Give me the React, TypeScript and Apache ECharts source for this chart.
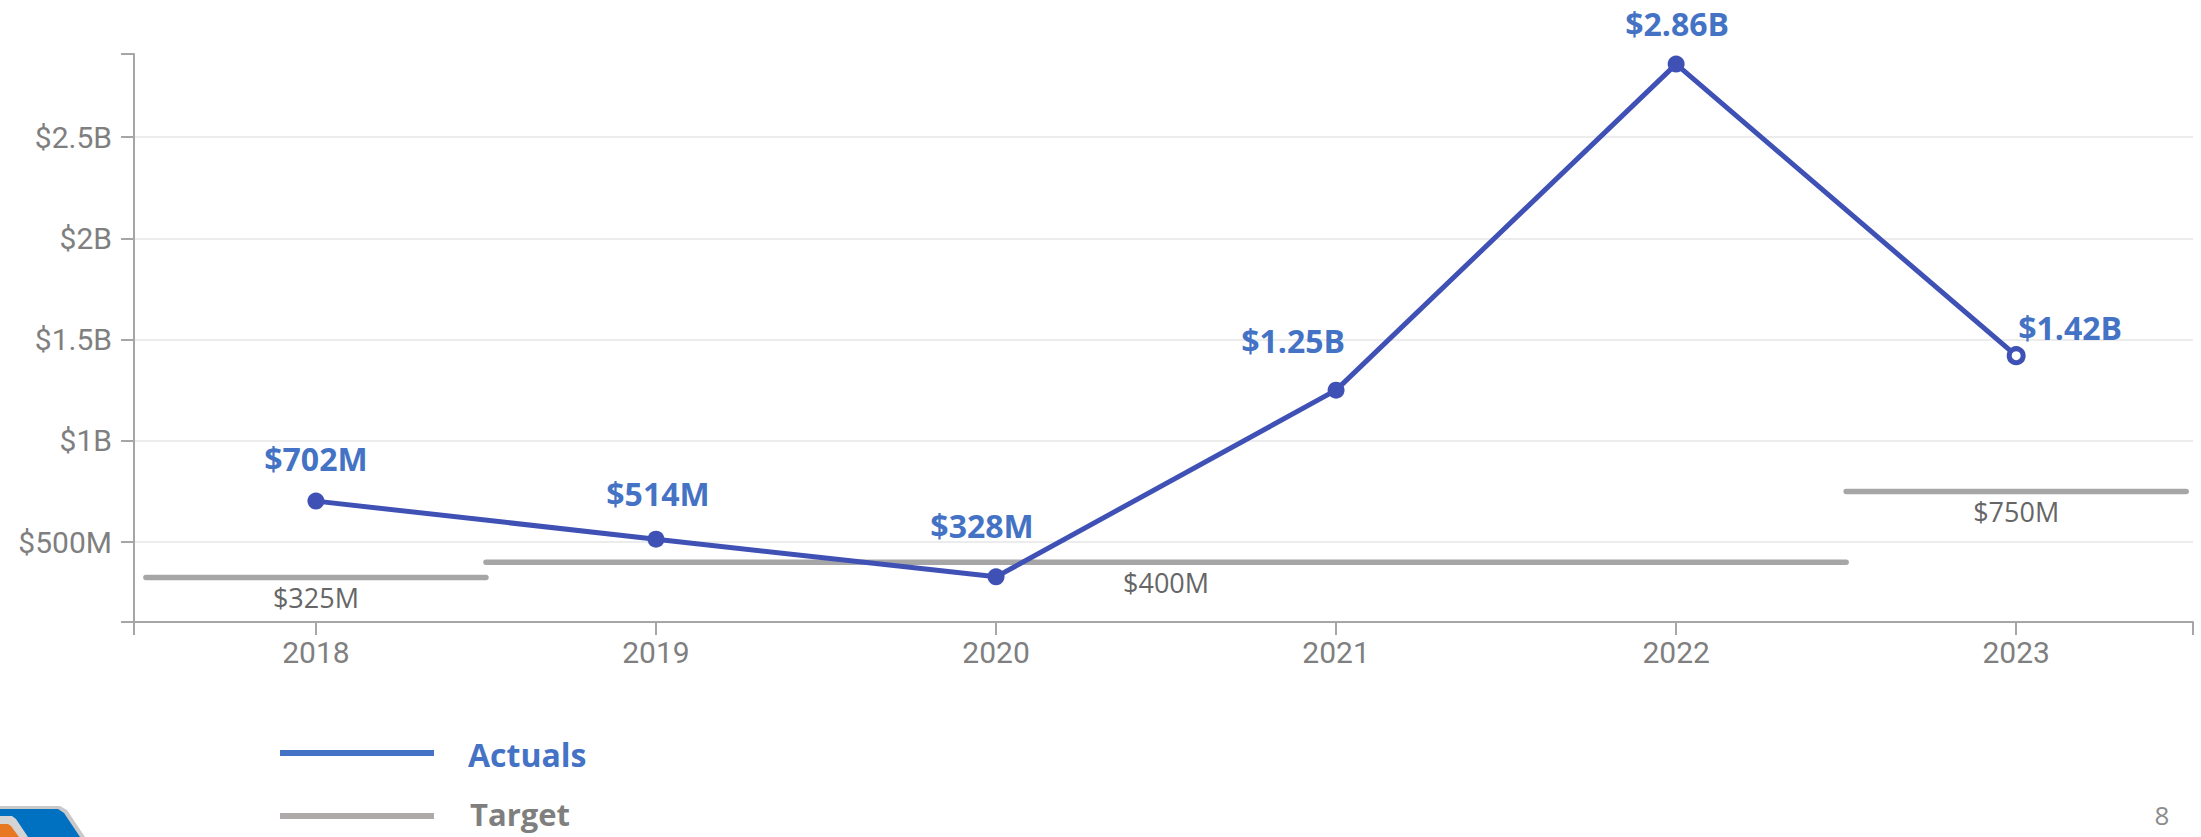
import React, { useEffect, useRef } from 'react';
import * as echarts from 'echarts';

// ---- data ----
const years = [2018, 2019, 2020, 2021, 2022, 2023];
const actuals = [702e6, 514e6, 328e6, 1.25e9, 2.86e9, 1.42e9];
const targetValues = [325e6, 400e6, 750e6];
const targetFrom = [2017.5, 2018.5, 2022.5];
const targetTo = [2018.5, 2022.5, 2023.5];
const yTickValues = [5e8, 1e9, 1.5e9, 2e9, 2.5e9];
const legendNames = ['Actuals', 'Target'];
const pageNumber = '8';

// ---- styling (label nudges per actual point, px) ----
const actualLabelOffsets: [number, number][] = [
  [0, -18],
  [2, -21],
  [-14, -27],
  [-43, -25],
  [1, -16],
  [54, -3],
];

const BLUE_LINE = '#3F51B5';
const BLUE_TEXT = '#4472C4';
const GREY_LINE = '#a6a6a6';
const AXIS = '#a6a6a6';

function money(v: number): string {
  if (v >= 1e9) {
    const b = v / 1e9;
    return '$' + parseFloat(b.toFixed(2)) + 'B';
  }
  return '$' + Math.round(v / 1e6) + 'M';
}

export default function App() {
  const ref = useRef<HTMLDivElement>(null);

  useEffect(() => {
    if (!ref.current) return;
    const chart = echarts.init(ref.current, undefined, { renderer: 'svg' });

    const last = actuals.length - 1;

    const targetSeries = targetValues.map((v, i) => {
      const mid = (targetFrom[i] + targetTo[i]) / 2;
      return {
        type: 'line',
        name: legendNames[1],
        z: 2,
        silent: true,
        symbol: 'circle',
        symbolSize: 1,
        showSymbol: true,
        itemStyle: { color: GREY_LINE },
        lineStyle: { color: GREY_LINE, width: 5.5, cap: 'round' },
        emphasis: { disabled: true },
        label: { show: false },
        data: [
          [targetFrom[i], v],
          {
            value: [mid, v],
            label: {
              show: true,
              position: 'bottom',
              distance: 6,
              formatter: money(v),
              fontFamily: 'Open Sans',
              fontSize: 27,
              color: '#666666',
            },
          },
          [targetTo[i], v],
        ],
      };
    });

    const actualSeries = {
      type: 'line',
      name: legendNames[0],
      z: 5,
      silent: true,
      symbol: 'circle',
      symbolSize: 17,
      showSymbol: true,
      itemStyle: { color: BLUE_LINE },
      lineStyle: { color: BLUE_LINE, width: 5 },
      emphasis: { disabled: true },
      label: {
        show: true,
        position: 'top',
        distance: 0,
        fontFamily: 'Open Sans',
        fontWeight: 'bold',
        fontSize: 32,
        color: BLUE_TEXT,
        formatter: (p: any) => money(p.value[1]),
      },
      data: years.map((y, i) => {
        const item: any = {
          value: [y, actuals[i]],
          label: { offset: actualLabelOffsets[i] },
        };
        if (i === last) {
          item.symbolSize = 14;
          item.itemStyle = { color: '#ffffff', borderColor: BLUE_LINE, borderWidth: 5 };
        }
        return item;
      }),
    };

    const option: any = {
      animation: false,
      backgroundColor: '#ffffff',
      grid: { left: 134, right: 8, top: 54, bottom: 215, containLabel: false },
      xAxis: {
        type: 'value',
        min: 2017.465,
        max: 2023.52,
        minInterval: 1,
        maxInterval: 1,
        axisLine: { show: true, onZero: false, lineStyle: { color: AXIS, width: 2 } },
        axisTick: { show: true, length: 13, lineStyle: { color: AXIS, width: 2 } },
        axisLabel: {
          margin: 15,
          fontFamily: 'Roboto',
          fontSize: 30,
          color: '#7f7f7f',
          formatter: (v: number) => (years.includes(v) ? String(v) : ''),
        },
        splitLine: { show: false },
      },
      yAxis: {
        type: 'value',
        min: 105e6,
        max: 2.91e9,
        minInterval: 5e8,
        maxInterval: 5e8,
        axisLine: { show: true, onZero: false, lineStyle: { color: AXIS, width: 2 } },
        axisTick: { show: true, length: 13, lineStyle: { color: AXIS, width: 2 } },
        axisLabel: {
          margin: 22,
          fontFamily: 'Roboto',
          fontSize: 30,
          color: '#7f7f7f',
          formatter: (v: number) =>
            yTickValues.some((t) => Math.abs(t - v) < 1) ? money(v) : '',
        },
        splitLine: {
          show: true,
          showMinLine: false,
          showMaxLine: false,
          lineStyle: { color: '#ececec', width: 2 },
        },
      },
      series: [...targetSeries, actualSeries],
      graphic: [
        // legend
        { type: 'rect', shape: { x: 280, y: 750, width: 154, height: 6 }, style: { fill: BLUE_TEXT }, silent: true },
        {
          type: 'text', x: 468, y: 754,
          style: { text: legendNames[0], fill: BLUE_TEXT, font: 'bold 32px "Open Sans"', verticalAlign: 'middle', align: 'left' },
          silent: true,
        },
        { type: 'rect', shape: { x: 280, y: 813, width: 154, height: 6 }, style: { fill: '#aeaaaa' }, silent: true },
        {
          type: 'text', x: 470, y: 814,
          style: { text: legendNames[1], fill: '#7f7f7f', font: 'bold 31px "Open Sans"', lineHeight: 30, verticalAlign: 'middle', align: 'left' },
          silent: true,
        },
        // page number
        {
          type: 'text', x: 2162, y: 815,
          style: { text: pageNumber, fill: '#8c8c8c', font: '26px "Open Sans"', lineHeight: 26, verticalAlign: 'middle', align: 'center' },
          silent: true,
        },
        // corner logo (partial)
        { type: 'polygon', shape: { points: [[0, 806], [60, 806], [67, 810], [85, 837], [0, 837]] }, style: { fill: '#c9c9c9' }, silent: true },
        { type: 'polygon', shape: { points: [[0, 809], [58, 809], [64, 813], [80, 837], [0, 837]] }, style: { fill: '#0070C0' }, silent: true },
        { type: 'polygon', shape: { points: [[0, 816], [12, 816], [16, 819], [28, 837], [0, 837]] }, style: { fill: '#d4d4d4' }, silent: true },
        { type: 'polygon', shape: { points: [[0, 824], [8, 824], [11, 826], [19, 837], [0, 837]] }, style: { fill: '#E87722' }, silent: true },
      ],
    };

    chart.setOption(option);
    return () => chart.dispose();
  }, []);

  return (
    <div
      ref={ref}
      style={{ position: 'fixed', left: 0, top: 0, width: 2201, height: 837, background: '#fff' }}
    />
  );
}
